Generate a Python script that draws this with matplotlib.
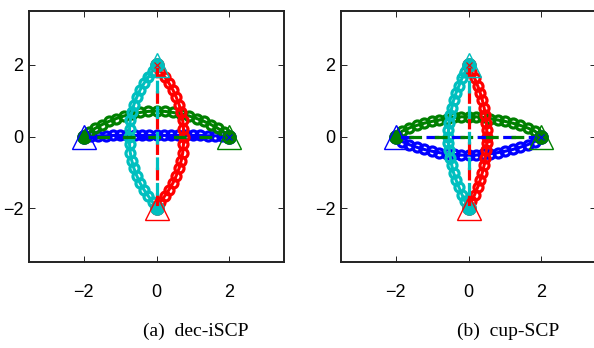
import matplotlib.pyplot as plt

# colours (MATLAB defaults)
BLUE = (0, 0, 1)
GREEN = (0, 0.5, 0)
RED = (1, 0, 0)
CYAN = (0, 0.75, 0.75)

# ---- panel (a): dec-iSCP ----
a_blue_x = [2.0, 1.8, 1.6, 1.4, 1.2, 1.0, 0.8, 0.6, 0.4, 0.2, 0.0,
            -0.2, -0.4, -0.6, -0.8, -1.0, -1.2, -1.4, -1.6, -1.8, -2.0]
a_blue_y = [0.0, 0.01, 0.02, 0.02, 0.03, 0.03, 0.03, 0.03, 0.03, 0.03, 0.03,
            0.03, 0.03, 0.03, 0.03, 0.03, 0.03, 0.02, 0.02, 0.01, 0.0]
a_green_x = [-2.0, -1.85, -1.68, -1.50, -1.31, -1.11, -0.90, -0.68, -0.45, -0.23, 0.0,
             0.23, 0.45, 0.68, 0.90, 1.11, 1.31, 1.50, 1.68, 1.85, 2.0]
a_green_y = [0.0, 0.12, 0.23, 0.33, 0.42, 0.50, 0.57, 0.63, 0.67, 0.70, 0.71,
             0.70, 0.67, 0.63, 0.57, 0.50, 0.42, 0.33, 0.23, 0.12, 0.0]
a_red_x = [0.0, 0.10, 0.22, 0.34, 0.45, 0.54, 0.62, 0.68, 0.72, 0.74, 0.75,
           0.74, 0.72, 0.68, 0.62, 0.54, 0.45, 0.34, 0.22, 0.10, 0.0]
a_red_y = [2.0, 1.84, 1.67, 1.49, 1.30, 1.10, 0.89, 0.67, 0.45, 0.22, 0.0,
           -0.22, -0.45, -0.67, -0.89, -1.10, -1.30, -1.49, -1.67, -1.84, -2.0]
a_cyan_x = [0.0, -0.10, -0.22, -0.34, -0.45, -0.54, -0.62, -0.68, -0.72, -0.74, -0.75,
            -0.74, -0.72, -0.68, -0.62, -0.54, -0.45, -0.34, -0.22, -0.10, 0.0]
a_cyan_y = [-2.0, -1.84, -1.67, -1.49, -1.30, -1.10, -0.89, -0.67, -0.45, -0.22, 0.0,
            0.22, 0.45, 0.67, 0.89, 1.10, 1.30, 1.49, 1.67, 1.84, 2.0]

# ---- panel (b): cup-SCP ----
b_blue_x = [2.0, 1.82, 1.62, 1.42, 1.22, 1.01, 0.80, 0.60, 0.40, 0.20, 0.0,
            -0.20, -0.40, -0.60, -0.80, -1.01, -1.22, -1.42, -1.62, -1.82, -2.0]
b_blue_y = [0.0, -0.14, -0.23, -0.30, -0.36, -0.41, -0.45, -0.48, -0.50, -0.52, -0.52,
            -0.52, -0.50, -0.48, -0.45, -0.41, -0.36, -0.30, -0.23, -0.14, 0.0]
b_green_x = [-2.0, -1.82, -1.62, -1.42, -1.22, -1.01, -0.80, -0.60, -0.40, -0.20, 0.0,
             0.20, 0.40, 0.60, 0.80, 1.01, 1.22, 1.42, 1.62, 1.82, 2.0]
b_green_y = [0.0, 0.15, 0.24, 0.31, 0.37, 0.42, 0.46, 0.50, 0.53, 0.55, 0.55,
             0.55, 0.53, 0.50, 0.46, 0.42, 0.37, 0.31, 0.24, 0.15, 0.0]
b_red_x = [0.0, 0.08, 0.17, 0.25, 0.32, 0.38, 0.43, 0.46, 0.49, 0.50, 0.50,
           0.50, 0.49, 0.46, 0.43, 0.38, 0.32, 0.25, 0.17, 0.08, 0.0]
b_red_y = [2.0, 1.81, 1.62, 1.42, 1.22, 1.01, 0.80, 0.59, 0.39, 0.19, 0.0,
           -0.19, -0.39, -0.59, -0.80, -1.01, -1.22, -1.42, -1.62, -1.81, -2.0]
b_cyan_x = [0.0, -0.09, -0.18, -0.26, -0.34, -0.41, -0.46, -0.50, -0.53, -0.55, -0.55,
            -0.55, -0.53, -0.50, -0.46, -0.41, -0.34, -0.26, -0.18, -0.09, 0.0]
b_cyan_y = [-2.0, -1.81, -1.62, -1.42, -1.22, -1.01, -0.80, -0.59, -0.39, -0.19, 0.0,
            0.19, 0.39, 0.59, 0.80, 1.01, 1.22, 1.42, 1.62, 1.81, 2.0]

ticks = [-2, 0, 2]
tick_labels = ['\u22122', '0', '2']
captions = ['(a)  dec-iSCP', '(b)  cup-SCP']


def draw_panel(ax, paths):
    # smoothed trajectories
    for x, y, c in paths:
        ax.plot(x, y, '-o', color=c, lw=2.2, ms=6.5, mfc='none', mew=2.3, zorder=2)
    # filled end points
    for x, y, c in paths:
        ax.plot([x[0], x[-1]], [y[0], y[-1]], 'o', color=c, ms=9.5, zorder=3)
    # straight initial lines, dashes of each pair alternate
    for i, (x, y, c) in enumerate(paths):
        ax.plot([x[0], x[-1]], [y[0], y[-1]], color=c, lw=2.3,
                linestyle=(4 * (i % 2), (4, 4)), dash_capstyle='butt', zorder=4)
    # goals (triangles) and starts (small x)
    for x, y, c in paths:
        ax.plot(x[-1], y[-1], '^', color=c, ms=17, mfc='none', mew=1.0, zorder=5)
        ax.plot(x[0], y[0], 'x', color=c, ms=4, mew=0.8, zorder=5)

    ax.set_xlim(-3.5, 3.5)
    ax.set_ylim(-3.5, 3.5)
    ax.set_xticks(ticks)
    ax.set_yticks(ticks)
    ax.set_xticklabels(tick_labels, family='Liberation Sans', fontsize=13)
    ax.set_yticklabels(tick_labels, family='Liberation Sans', fontsize=13)
    ax.tick_params(direction='in', top=True, right=True, length=4, width=0.6)
    ax.tick_params(axis='x', pad=16)
    ax.tick_params(axis='y', pad=4)
    for s in ax.spines.values():
        s.set_linewidth(1.4)
        s.set_color('#222222')


fig = plt.figure(figsize=(5.94, 3.48), dpi=100)
W, H = 594.0, 348.0
ax1 = fig.add_axes([29 / W, 86 / H, 255 / W, 251 / H])
ax2 = fig.add_axes([341 / W, 86 / H, 255 / W, 251 / H])

draw_panel(ax1, [(a_blue_x, a_blue_y, BLUE), (a_green_x, a_green_y, GREEN),
                 (a_red_x, a_red_y, RED), (a_cyan_x, a_cyan_y, CYAN)])
draw_panel(ax2, [(b_blue_x, b_blue_y, BLUE), (b_green_x, b_green_y, GREEN),
                 (b_red_x, b_red_y, RED), (b_cyan_x, b_cyan_y, CYAN)])

fig.text(196 / W, 1 - 331 / H, captions[0], ha='center', va='center',
         family='Liberation Serif', fontsize=14)
fig.text(508 / W, 1 - 331 / H, captions[1], ha='center', va='center',
         family='Liberation Serif', fontsize=14)

fig.savefig('out.png', dpi=100)
